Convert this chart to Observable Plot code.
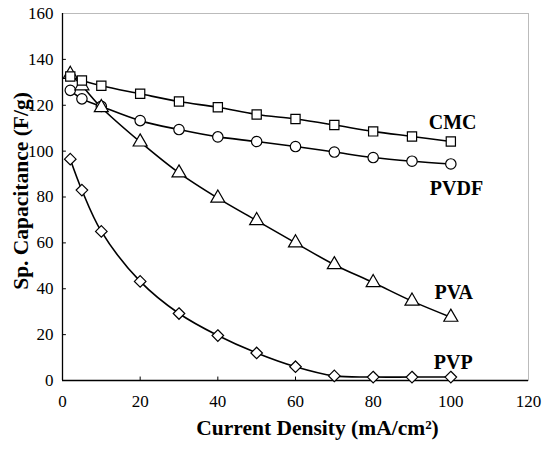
<!DOCTYPE html>
<html><head><meta charset="utf-8">
<script src="https://cdn.jsdelivr.net/npm/d3@7"></script>
<script src="https://cdn.jsdelivr.net/npm/@observablehq/plot@0.6"></script>
<style>
body{margin:0;background:#fff;}
#chart svg, #chart svg text{font-family:"Liberation Serif","Times New Roman","DejaVu Serif",serif !important;}
</style>
</head><body><div id="chart"></div>
<script>
const currentDensity = [2, 5, 10, 20, 30, 40, 50, 60, 70, 80, 90, 100];
const cmc  = [132.5, 130.8, 128.5, 125, 121.6, 119.1, 116, 114, 111.4, 108.6, 106.4, 104.2];
const pvdf = [126.5, 122.8, 119.5, 113.3, 109.4, 106.2, 104.2, 102, 99.6, 97.2, 95.6, 94.4];
const pva  = [133.5, 128.5, 119, 104, 90.5, 79.5, 69.7, 60, 50.5, 42.7, 34.6, 27.6];
const pvp  = [96.5, 83, 65, 43.2, 29.2, 19.6, 12, 6, 2, 1.5, 1.5, 1.5];
const seriesNames = ["CMC", "PVDF", "PVA", "PVP"];
const seriesSymbols = ["square", "circle", "triangle", "diamond2"];
const drawOrder = ["PVP", "PVDF", "PVA", "CMC"];
const labelX = [94.3, 94.6, 95.8, 95.6];
const labelY = [112.6, 83.7, 38.5, 8];
const xTicks = [0, 20, 40, 60, 80, 100, 120];
const yTicks = [0, 20, 40, 60, 80, 100, 120, 140, 160];

const serif = "'Liberation Serif', 'Times New Roman', 'DejaVu Serif', serif";
const allSeries = [cmc, pvdf, pva, pvp];
const rows = [];
allSeries.forEach((vals, si) => vals.forEach((v, i) => rows.push({series: seriesNames[si], x: currentDensity[i], y: v})));
const labels = seriesNames.map((s, i) => ({series: s, x: labelX[i], y: labelY[i]}));

const marks = [
  Plot.frame({stroke: "#777", strokeDasharray: "1,1"}),
  Plot.ruleX([0], {stroke: "#000", strokeWidth: 1.3}),
  Plot.ruleY([0], {stroke: "#000", strokeWidth: 1.3}),
  Plot.ruleX(xTicks.filter(d => d > 0 && d < 120), {x: d => d, y1: 0, y2: 1.5, stroke: "#000"}),
  Plot.ruleY(yTicks.filter(d => d > 0 && d < 160), {y: d => d, x1: 0, x2: 1, stroke: "#000"})
];
seriesNames.forEach((s) => {
  const data = rows.filter(r => r.series === s);
  marks.push(Plot.line(data, {x: "x", y: "y", curve: "catmull-rom", stroke: "#000", strokeWidth: 1.6}));
});
drawOrder.forEach((s) => {
  const si = seriesNames.indexOf(s);
  const data = rows.filter(r => r.series === s);
  marks.push(Plot.dot(data, {x: "x", y: "y", symbol: () => seriesSymbols[si], r: 5.2, fill: "#fff", stroke: "#000", strokeWidth: 1.2}));
});
marks.push(Plot.text(labels, {x: "x", y: "y", text: "series", textAnchor: "start", fontSize: 20, fontWeight: "bold", fontFamily: serif, fill: "#000"}));

const chart = Plot.plot({
  width: 546,
  height: 449,
  marginLeft: 62,
  marginRight: 18,
  marginTop: 13,
  marginBottom: 69,
  style: {fontFamily: serif, fontSize: "17px", background: "#fff", color: "#000"},
  x: {domain: [0, 120], ticks: xTicks, tickSize: 0, tickPadding: 14, label: null},
  y: {domain: [0, 160], ticks: yTicks, tickSize: 0, tickPadding: 9, label: null},
  symbol: {type: "identity"},
  marks: [
    ...marks,
    Plot.axisX({ticks: xTicks, tickSize: 0, tickPadding: 14, fontSize: 17, fontFamily: serif, label: null}),
    Plot.axisY({ticks: yTicks, tickSize: 0, tickPadding: 9, fontSize: 17, fontFamily: serif, label: null}),
    Plot.text(["Current Density (mA/cm²)"], {frameAnchor: "bottom", textAnchor: "middle", lineAnchor: "middle", dx: 22, dy: 48, text: d => d, fontSize: 21.5, fontWeight: "bold", fontFamily: serif, fill: "#000"}),
    Plot.text(["Sp. Capacitance (F/g)"], {frameAnchor: "left", textAnchor: "middle", lineAnchor: "middle", dx: -41, dy: -6, rotate: -90, text: d => d, fontSize: 21.5, fontWeight: "bold", fontFamily: serif, fill: "#000"})
  ]
});
document.getElementById("chart").appendChild(chart);
</script>
</body></html>
